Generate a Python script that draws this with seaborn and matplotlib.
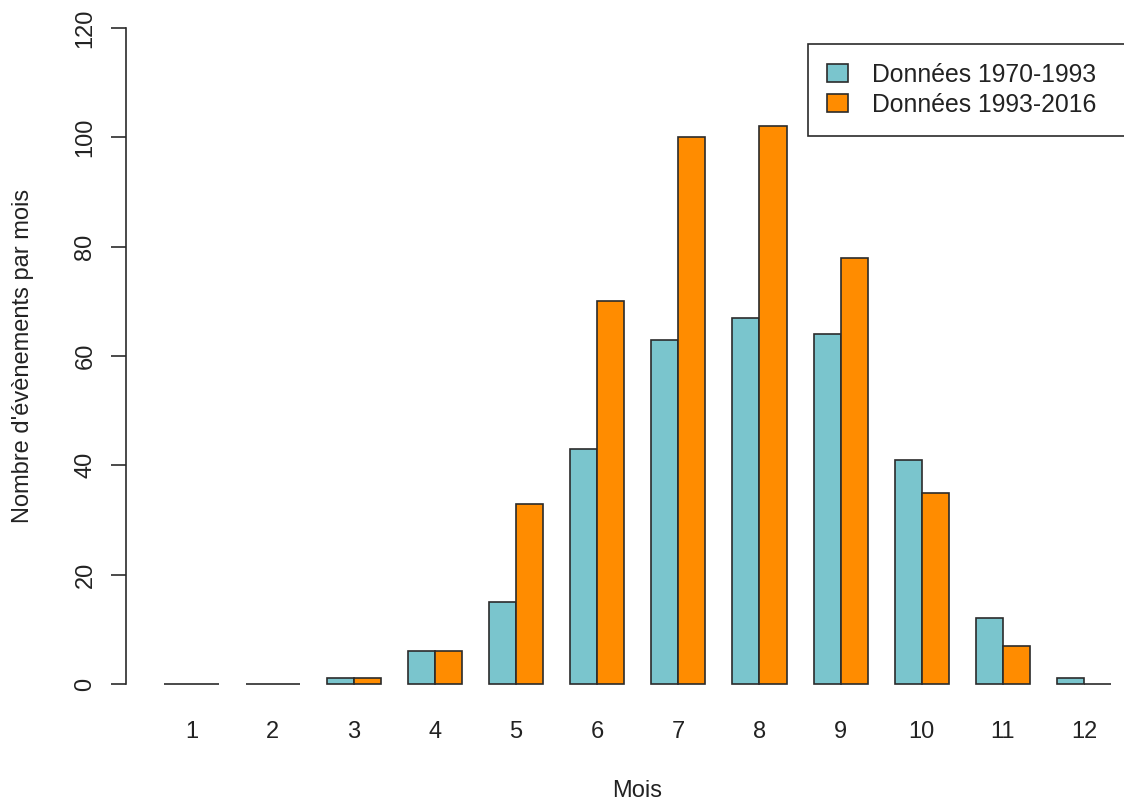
import numpy as np
import pandas as pd
import matplotlib
matplotlib.use("Agg")
import matplotlib.pyplot as plt
import seaborn as sns

# Monthly event counts for the two periods
months = [1, 2, 3, 4, 5, 6, 7, 8, 9, 10, 11, 12]
counts_1970_1993 = [0, 0, 1, 6, 15, 43, 63, 67, 64, 41, 12, 1]
counts_1993_2016 = [0, 0, 1, 6, 33, 70, 100, 102, 78, 35, 7, 0]
series_labels = ["Données 1970-1993", "Données 1993-2016"]
series_colors = ["#7AC5CD", "#FF8C00"]
y_ticks = [0, 20, 40, 60, 80, 100, 120]

df = pd.DataFrame({
    "Mois": [str(m) for m in months] * 2,
    "n": counts_1970_1993 + counts_1993_2016,
    "periode": [series_labels[0]] * len(months) + [series_labels[1]] * len(months),
})

sns.set_style("white")
plt.rcParams["font.family"] = ["Liberation Sans", "DejaVu Sans"]

W, H = 1124, 802
fig = plt.figure(figsize=(W / 100, H / 100), dpi=100)
ax = fig.add_axes([126 / W, 1 - 710.2 / H, (W - 126) / W, 708.4 / H])

sns.barplot(
    data=df, x="Mois", y="n", hue="periode",
    palette=series_colors, width=2 / 3, gap=0,
    edgecolor="#2b2b2b", linewidth=1.2, saturation=1,
    errorbar=None, ax=ax,
)

ax.set_xlim(-0.807, 11.492)
ax.set_ylim(-4.8, 124.8)

for side in ["top", "right", "bottom"]:
    ax.spines[side].set_visible(False)
ax.spines["left"].set_bounds(0, 120)
ax.spines["left"].set_color("#2b2b2b")
ax.spines["left"].set_linewidth(1.2)

ax.set_yticks(y_ticks)
ax.set_yticklabels([str(t) for t in y_ticks], rotation=90, va="center")
ax.tick_params(axis="y", left=True, direction="out", length=10.8, width=1.2,
               color="#2b2b2b", pad=10.5, labelsize=17, labelcolor="#222222")
ax.tick_params(axis="x", bottom=False, length=0, pad=8, labelsize=17,
               labelcolor="#222222")

ax.set_xlabel("Mois", fontsize=17, color="#222222")
ax.set_ylabel("Nombre d'évènements par mois", fontsize=17, color="#222222")
ax.xaxis.set_label_coords((637 - 126) / 998, (710.2 - 791) / 708.4)
ax.xaxis.label.set_va("center")
ax.yaxis.set_label_coords((23 - 126) / 998, 0.5)
ax.yaxis.label.set_va("center")

# Legend anchored at the top right, its box running past the right edge
handles, labels = ax.get_legend_handles_labels()
leg = ax.legend(
    handles, labels,
    loc="upper left",
    bbox_to_anchor=(808 / W, 1 - 44 / H, (1160 - 808) / W, 0),
    bbox_transform=fig.transFigure, borderaxespad=0, mode="expand",
    frameon=True, fancybox=False, framealpha=1, edgecolor="#2b2b2b",
    fontsize=17.8, borderpad=0.76, handlelength=0.85, handleheight=0.72,
    handletextpad=0.97, labelspacing=0.24,
)
leg.get_frame().set_linewidth(1.2)
for t in leg.get_texts():
    t.set_color("#222222")

ax.grid(False)
fig.savefig("out.png", dpi=100, facecolor="white")
